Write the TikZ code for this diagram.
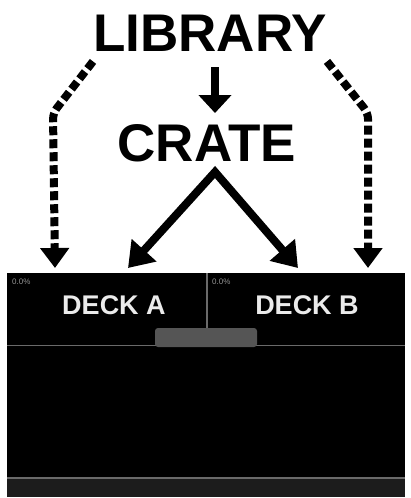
\documentclass[tikz,border=0pt]{standalone}
\usepackage{fontspec}
\setmainfont{Liberation Sans}
\usetikzlibrary{arrows.meta, positioning}

\definecolor{linegray}{HTML}{6A6A6A}
\definecolor{tabgray}{HTML}{555555}
\definecolor{stripgray}{HTML}{1C1C1C}

\tikzset{
	title/.style={font=\fontsize{53}{53}\selectfont\bfseries, inner sep=0pt},
	deck/.style={font=\fontsize{27}{27}\selectfont\bfseries, text=white!92!black, inner sep=0pt},
	pct/.style={font=\fontsize{8}{8}\selectfont, text=gray!85, inner sep=0pt, anchor=west},
	solid arrow/.style={-{Triangle[length=24pt,width=32pt]}, line width=8pt},
	dash arrow/.style={-{Triangle[length=20pt,width=28pt]}, line width=8pt, dash pattern=on 9pt off 4pt},
}

\begin{document}
\begin{tikzpicture}[x=1pt, y=-1pt]
	\useasboundingbox (0,0) rectangle (410,498);
	
	% Draw the deck panel
	\fill[black] (7,273) rectangle (405,497);
	\fill[stripgray] (7,478) rectangle (405,497);
	\draw[linegray, line width=1.5pt] (7,478) -- (405,478);
	\draw[linegray, line width=1.5pt] (7,345.5) -- (405,345.5);
	\draw[linegray, line width=1.5pt] (207,273) -- (207,328);
	\fill[tabgray, rounded corners=3pt] (155,347) rectangle (257,328);
	
	% Labels for decks
	\node[deck] (deckA) at (114,305) {DECK A};
	\node[deck] (deckB) at (307,305) {DECK B};
	\node[pct] (pctA) at (12,282) {0.0\%};
	\node[pct] (pctB) at (212,282) {0.0\%};
	
	% Labels for sources
	\node[title] (lib) at (210,33) {LIBRARY};
	\node[title] (crate) at (207,143) {CRATE};
	
	% Ends of the arrows
	\coordinate (apex) at (215,172);
	\coordinate (tipA) at (128,268);
	\coordinate (tipB) at (298,268);
	\coordinate (bendL) at (53,113);
	\coordinate (bendR) at (368,113);
	\coordinate (tipL) at (55,268);
	\coordinate (tipR) at (368,268);
	
	% Draw the arrows
	\draw[solid arrow, -{Triangle[length=18pt,width=32pt]}] ([xshift=5pt,yshift=-16pt]lib.south) -- ([xshift=8pt,yshift=11pt]crate.north);
	\draw[solid arrow, {Triangle[length=24pt,width=32pt]}-{Triangle[length=24pt,width=32pt]}, line join=miter] (tipA) -- (apex) -- (tipB);
	\draw[dash arrow, rounded corners=6pt] ([yshift=-10pt]lib.south west) -- (bendL) -- (tipL);
	\draw[dash arrow, rounded corners=6pt] ([yshift=-10pt]lib.south east) -- (bendR) -- (tipR);
\end{tikzpicture}
\end{document}
